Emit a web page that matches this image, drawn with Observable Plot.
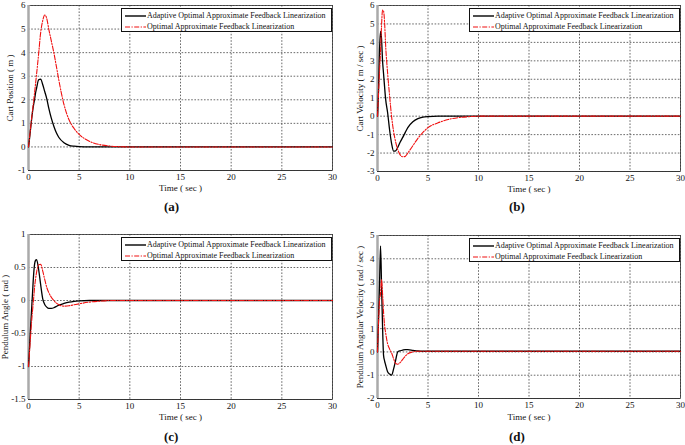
<!DOCTYPE html>
<html>
<head>
<meta charset="utf-8">
<script src="https://cdn.jsdelivr.net/npm/d3@7"></script>
<script src="https://cdn.jsdelivr.net/npm/@observablehq/plot@0.6"></script>
<style>
  html, body { margin: 0; padding: 0; background: #fff; }
  #fig { position: relative; width: 685px; height: 445px; overflow: hidden; background: #fff;
         font-family: "Liberation Serif", "Times New Roman", serif; }
  .panel { position: absolute; }
  .legend { position: absolute; background: #fff; border: 1px solid #111; box-sizing: border-box;
            font-size: 8px; color: #111; }
  .legend .row { position: absolute; left: 0; height: 10px; line-height: 10px; white-space: nowrap; }
  .legend svg { position: absolute; left: 3px; top: 0; }
  .legend span { position: absolute; left: 25px; top: 0; }
  .tag { position: absolute; font-weight: bold; font-size: 13px; color: #111; }
</style>
</head>
<body>
<div id="fig"></div>
<script>
// ---- data ----
const time = [0,0.1,0.2,0.3,0.4,0.5,0.6,0.7,0.8,1,1.2,1.4,1.6,1.8,2,2.25,2.5,2.75,3,3.5,4,4.5,5,6,7,8,9,10,30];

const seriesNames = ["Adaptive Optimal Approximate Feedback Linearization", "Optimal Approximate Feedback Linearization"];

const cartPosAdaptive = [0,0.35,0.75,1.15,1.5,1.78,2.02,2.3,2.5,2.85,2.88,2.65,2.35,2.05,1.65,1.22,0.88,0.6,0.4,0.18,0.07,0.03,0.01,0,0,0,0,0,0];
const cartPosOptimal  = [0,0.38,0.78,1.18,1.55,1.92,2.3,2.7,3.1,3.95,4.85,5.35,5.6,5.45,5.0,4.5,4.0,3.42,2.82,1.8,1.15,0.78,0.53,0.24,0.1,0.04,0.01,0,0];

const cartVelAdaptive = [0,1.4,3.6,4.6,4.2,3.0,2.3,1.6,0.95,0.2,-0.75,-1.5,-1.9,-1.88,-1.7,-1.4,-1.15,-0.88,-0.62,-0.3,-0.13,-0.05,-0.02,0,0,0,0,0,0];
const cartVelOptimal  = [0,1.2,2.4,3.5,4.9,5.75,5.7,5.1,3.9,2.35,1.1,-0.05,-0.85,-1.4,-1.8,-2.1,-2.2,-2.18,-2.0,-1.6,-1.2,-0.88,-0.62,-0.36,-0.18,-0.08,-0.03,0,0];

const angleAdaptive = [-1,-0.72,-0.42,-0.15,0.12,0.38,0.55,0.61,0.62,0.47,0.24,0.03,-0.06,-0.1,-0.12,-0.12,-0.11,-0.09,-0.07,-0.045,-0.025,-0.012,-0.005,0,0,0,0,0,0];
const angleOptimal  = [-1,-0.78,-0.55,-0.33,-0.15,0.02,0.2,0.33,0.43,0.54,0.55,0.45,0.32,0.2,0.12,0.05,0.0,-0.04,-0.065,-0.085,-0.08,-0.065,-0.05,-0.025,-0.01,0,0,0,0];

const angVelAdaptive = [0,1.4,2.9,4.55,2.9,1.1,-0.15,-0.38,-0.55,-0.85,-0.95,-1.0,-0.72,-0.35,0.0,0.05,0.08,0.1,0.1,0.07,0.04,0.03,0.03,0.03,0.03,0.03,0.03,0.03,0.03];
const angVelOptimal  = [0,1.2,2.2,2.5,3.1,2.5,1.7,1.15,0.84,0.35,0.12,-0.05,-0.3,-0.5,-0.53,-0.45,-0.32,-0.18,-0.08,0.0,0.03,0.03,0.03,0.03,0.03,0.03,0.03,0.03,0.03];

const xTicks = [0,5,10,15,20,25,30];
const yTicksA = [-1,0,1,2,3,4,5,6];
const yTicksB = [-3,-2,-1,0,1,2,3,4,5,6];
const yTicksC = [-1.5,-1,-0.5,0,0.5,1];
const yTicksD = [-2,-1,0,1,2,3,4,5];

const yLabels = ["Cart Position ( m )", "Cart Velocity ( m / sec )", "Pendulum Angle ( rad )", "Pendulum Angular Velocity ( rad / sec )"];
const panelTags = ["(a)", "(b)", "(c)", "(d)"];
const xLabel = "Time ( sec )";

// ---- drawing ----
const fig = document.getElementById("fig");

function makePanel(cfg) {
  const {left, top, width, height, mL, mR, mT, mB, xLabOff, yLabOff, yTicks, yLabel, adaptive, optimal, tag, tagX, tagY} = cfg;
  const rows = time.map((t, i) => ({t, a: adaptive[i], o: optimal[i]}));
  const grid = {stroke: "#444", strokeOpacity: 1, strokeWidth: 0.8, strokeDasharray: "1.6,1.6"};
  const svg = Plot.plot({
    width, height,
    marginLeft: mL, marginRight: mR, marginTop: mT, marginBottom: mB,
    style: {fontFamily: "'Liberation Serif', 'Times New Roman', serif", fontSize: "9px", color: "#111", background: "transparent", overflow: "visible"},
    x: {domain: [0, 30], ticks: xTicks, tickSize: 0, tickPadding: 3, label: xLabel, labelAnchor: "center", labelArrow: "none", labelOffset: xLabOff},
    y: {domain: [yTicks[0], yTicks[yTicks.length - 1]], ticks: yTicks, tickSize: 0, tickPadding: 3, tickFormat: d => String(d),
        label: yLabel, labelAnchor: "center", labelArrow: "none", labelOffset: yLabOff},
    marks: [
      Plot.gridX(xTicks, grid),
      Plot.gridY(yTicks, grid),
      Plot.frame({stroke: "#333", strokeWidth: 0.8}),
      Plot.ruleX([0], {stroke: "#aaa", strokeWidth: 2.5}),
      Plot.ruleY([yTicks[0]], {stroke: "#333", strokeWidth: 0.9}),
      Plot.lineY(rows, {x: "t", y: "a", stroke: "#000", strokeWidth: 1.3, curve: "monotone-x"}),
      Plot.lineY(rows, {x: "t", y: "o", stroke: "#f01010", strokeWidth: 1.1, strokeDasharray: "5,1.5,1.2,1.5", curve: "monotone-x"})
    ]
  });
  const div = document.createElement("div");
  div.className = "panel";
  div.style.left = left + "px";
  div.style.top = top + "px";
  div.style.width = width + "px";
  div.style.height = height + "px";
  div.appendChild(svg);

  // legend box, anchored to top-right corner of the frame
  const lg = document.createElement("div");
  lg.className = "legend";
  const lw = 211, lh = 24;
  lg.style.left = (width - mR - lw) + "px";
  lg.style.top = (mT + 3) + "px";
  lg.style.width = lw + "px";
  lg.style.height = lh + "px";
  const styles = [{stroke: "#000", w: 1.4, dash: ""}, {stroke: "#f01010", w: 1.1, dash: "5,1.5,1.2,1.5"}];
  seriesNames.forEach((name, i) => {
    const row = document.createElement("div");
    row.className = "row";
    row.style.top = (2 + i * 10.5) + "px";
    row.style.width = lw + "px";
    row.innerHTML = `<svg width="22" height="10"><line x1="0" x2="21" y1="5" y2="5" stroke="${styles[i].stroke}" stroke-width="${styles[i].w}" stroke-dasharray="${styles[i].dash}"/></svg><span>${name}</span>`;
    lg.appendChild(row);
  });
  div.appendChild(lg);
  fig.appendChild(div);

  const tg = document.createElement("div");
  tg.className = "tag";
  tg.textContent = tag;
  tg.style.left = tagX + "px";
  tg.style.top = tagY + "px";
  fig.appendChild(tg);
}

makePanel({left: 0, top: 0, width: 340, height: 200, mL: 28, mR: 8, mT: 5, mB: 30, xLabOff: 20, yLabOff: 22,
  yTicks: yTicksA, yLabel: yLabels[0], adaptive: cartPosAdaptive, optimal: cartPosOptimal, tag: panelTags[0], tagX: 164, tagY: 199});
makePanel({left: 345, top: 0, width: 340, height: 200, mL: 32, mR: 5, mT: 5, mB: 29, xLabOff: 20, yLabOff: 21,
  yTicks: yTicksB, yLabel: yLabels[1], adaptive: cartVelAdaptive, optimal: cartVelOptimal, tag: panelTags[1], tagX: 509, tagY: 199});
makePanel({left: 0, top: 225, width: 340, height: 200, mL: 28, mR: 8, mT: 9, mB: 26, xLabOff: 20, yLabOff: 27,
  yTicks: yTicksC, yLabel: yLabels[2], adaptive: angleAdaptive, optimal: angleOptimal, tag: panelTags[2], tagX: 164, tagY: 429});
makePanel({left: 345, top: 225, width: 340, height: 200, mL: 32, mR: 5, mT: 10, mB: 27, xLabOff: 21, yLabOff: 21,
  yTicks: yTicksD, yLabel: yLabels[3], adaptive: angVelAdaptive, optimal: angVelOptimal, tag: panelTags[3], tagX: 509, tagY: 429});
</script>
</body>
</html>
